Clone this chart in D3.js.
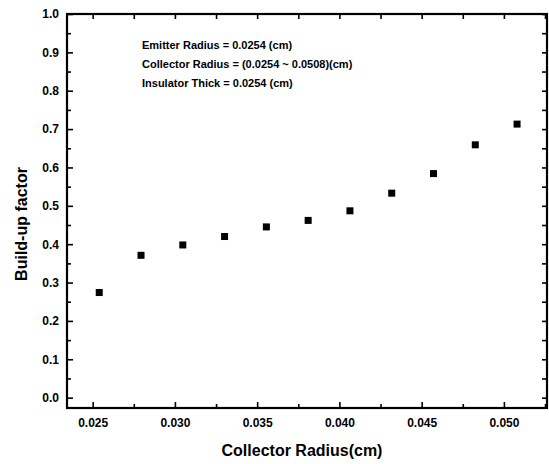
<!DOCTYPE html>
<html>
<head>
<meta charset="utf-8">
<script src="https://cdn.jsdelivr.net/npm/d3@7"></script>
<style>
  body { margin: 0; background: #fff; }
  svg { display: block; }
  .axis path, .axis line { stroke: #000; }
  .axis text { font-family: "Liberation Sans", Arial, sans-serif; font-weight: bold; font-size: 12px; fill: #000; }
</style>
</head>
<body>
<div id="chart"></div>
<script>
// collector radius (cm) and build-up factor
const radius = [0.0254, 0.02794, 0.03048, 0.03302, 0.03556, 0.0381, 0.04064, 0.04318, 0.04572, 0.04826, 0.0508];
const buildUp = [0.274, 0.371, 0.398, 0.420, 0.445, 0.462, 0.487, 0.533, 0.584, 0.659, 0.713];

const xTicks = [0.025, 0.030, 0.035, 0.040, 0.045, 0.050];
const xMinor = [0.0275, 0.0325, 0.0375, 0.0425, 0.0475, 0.0525];
const yTicks = [0.0, 0.1, 0.2, 0.3, 0.4, 0.5, 0.6, 0.7, 0.8, 0.9, 1.0];
const yMinor = [0.05, 0.15, 0.25, 0.35, 0.45, 0.55, 0.65, 0.75, 0.85, 0.95];

const notes = [
  'Emitter Radius = 0.0254 (cm)',
  'Collector Radius = (0.0254 ~ 0.0508)(cm)',
  'Insulator Thick = 0.0254 (cm)'
];

const w = 549, h = 464;
const margins = { left: 67, right: 2, top: 14, bottom: 56 };
const width = w - margins.left - margins.right;
const height = h - margins.top - margins.bottom;

const svg = d3.select('#chart').append('svg')
  .attr('width', w)
  .attr('height', h);

const x = d3.scaleLinear().domain([0.02344, 0.05262]).range([0, width]);
const y = d3.scaleLinear().domain([-0.027, 1.0]).range([height, 0]);

const vis = svg.append('g')
  .attr('transform', `translate(${margins.left}, ${margins.top})`);

// frame
vis.append('rect')
  .attr('width', width)
  .attr('height', height)
  .attr('fill', 'none')
  .attr('stroke', '#000')
  .attr('stroke-width', 2.2);

// bottom axis, ticks inward
vis.append('g')
  .attr('class', 'axis')
  .attr('transform', `translate(0, ${height})`)
  .call(d3.axisBottom(x).tickValues(xTicks).tickFormat(d3.format('.3f')).tickSize(-6).tickPadding(10))
  .call(g => g.select('.domain').remove());
vis.append('g')
  .attr('class', 'axis')
  .attr('transform', `translate(0, ${height})`)
  .call(d3.axisBottom(x).tickValues(xMinor).tickFormat('').tickSize(-4))
  .call(g => g.select('.domain').remove());

// top axis
vis.append('g')
  .attr('class', 'axis')
  .call(d3.axisTop(x).tickValues(xTicks.concat(xMinor)).tickFormat('').tickSize(-5))
  .call(g => g.select('.domain').remove());

// left axis
vis.append('g')
  .attr('class', 'axis')
  .call(d3.axisLeft(y).tickValues(yTicks).tickFormat(d3.format('.1f')).tickSize(-6).tickPadding(8))
  .call(g => g.select('.domain').remove());
vis.append('g')
  .attr('class', 'axis')
  .call(d3.axisLeft(y).tickValues(yMinor).tickFormat('').tickSize(-4))
  .call(g => g.select('.domain').remove());

// right axis
vis.append('g')
  .attr('class', 'axis')
  .attr('transform', `translate(${width}, 0)`)
  .call(d3.axisRight(y).tickValues(yTicks.concat(yMinor)).tickFormat('').tickSize(-5))
  .call(g => g.select('.domain').remove());

vis.selectAll('.axis line').attr('stroke-width', 1.6);

// markers
vis.selectAll('.pt')
  .data(radius)
  .enter()
  .append('rect')
  .attr('class', 'pt')
  .attr('x', d => x(d) - 3.5)
  .attr('y', (d, i) => y(buildUp[i]) - 3.5)
  .attr('width', 7)
  .attr('height', 7)
  .attr('fill', '#000');

// notes
vis.selectAll('.note')
  .data(notes)
  .enter()
  .append('text')
  .attr('class', 'note')
  .attr('x', 75)
  .attr('y', (d, i) => 35 + i * 19)
  .style('font-family', '"Liberation Sans Narrow", "Arial Narrow", sans-serif')
  .style('font-weight', 'bold')
  .style('font-size', '11px')
  .text(d => d);

// axis labels
svg.append('text')
  .attr('x', 302)
  .attr('y', 456)
  .attr('text-anchor', 'middle')
  .style('font-family', '"Liberation Sans", Arial, sans-serif')
  .style('font-size', '16px')
  .style('font-weight', 'bold')
  .text('Collector Radius(cm)');

svg.append('text')
  .attr('transform', 'translate(27, 224) rotate(-90)')
  .attr('text-anchor', 'middle')
  .style('font-family', '"Liberation Sans", Arial, sans-serif')
  .style('font-size', '16px')
  .style('font-weight', 'bold')
  .text('Build-up factor');
</script>
</body>
</html>
